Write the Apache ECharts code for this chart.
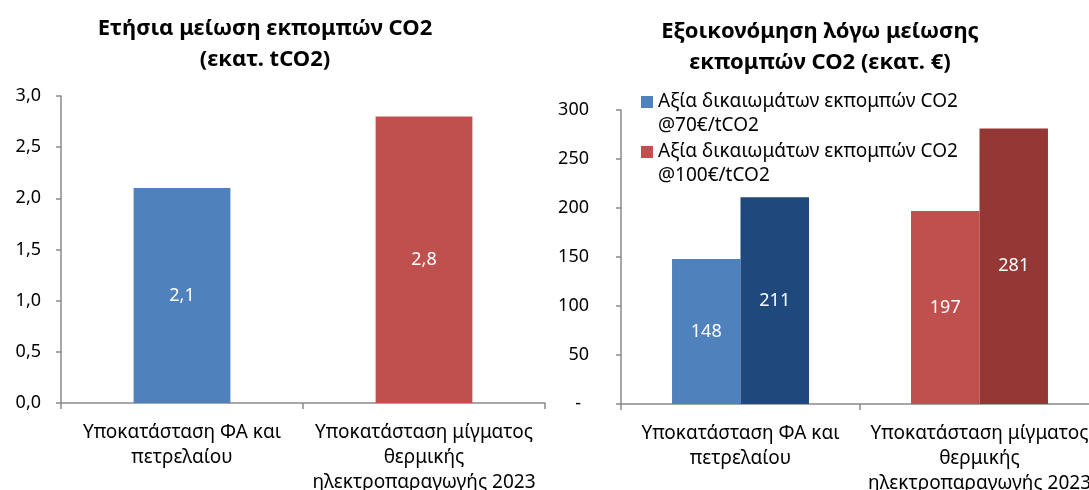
<!DOCTYPE html>
<html>
<head>
<meta charset="utf-8">
<script src="https://cdn.jsdelivr.net/npm/echarts@6/dist/echarts.min.js"></script>
<style>
  html, body { margin: 0; padding: 0; background: #ffffff; }
  #chart { width: 1089px; height: 490px; }
</style>
</head>
<body>
<div id="chart"></div>
<script>
// Text
const FONT = '"Noto Sans", "DejaVu Sans", sans-serif';
const leftTitle = 'Ετήσια μείωση εκπομπών CO2\n(εκατ. tCO2)';
const rightTitle = 'Εξοικονόμηση λόγω μείωσης\nεκπομπών CO2 (εκατ. €)';
const categories = [
  'Υποκατάσταση ΦΑ και\nπετρελαίου',
  'Υποκατάσταση μίγματος\nθερμικής\nηλεκτροπαραγωγής 2023'
];
const seriesNames = [
  'Αξία δικαιωμάτων εκπομπών CO2\n@70€/tCO2',
  'Αξία δικαιωμάτων εκπομπών CO2\n@100€/tCO2'
];

// Values
const reductionValues = [2.1, 2.8];      // εκατ. tCO2
const savings70 = [148, 197];            // εκατ. € @70€/tCO2
const savings100 = [211, 281];           // εκατ. € @100€/tCO2

// Axis tick labels
const leftTicks = ['0,0', '0,5', '1,0', '1,5', '2,0', '2,5', '3,0'];
const rightTicks = ['-', '50', '100', '150', '200', '250', '300'];

// Colours
const reductionColors = ['#4F81BD', '#C0504D'];
const savings70Colors = ['#4F81BD', '#C0504D'];
const savings100Colors = ['#1F497D', '#953735'];

const AXIS_GREY = '#8a8a8a';
const TEXT = '#000000';
const TEXT_SIZE = 19;   // category names, legend
const NUM_SIZE = 18;    // tick values, bar values
const TITLE_SIZE = 22;

const chart = echarts.init(document.getElementById('chart'), null, { renderer: 'canvas' });

const commaNum = v => v.toFixed(1).replace('.', ',');

function xAxisCommon(gridIndex) {
  return {
    type: 'category',
    gridIndex: gridIndex,
    data: categories,
    axisLine: { lineStyle: { color: AXIS_GREY, width: 1.5 } },
    axisTick: { show: true, length: 6, lineStyle: { color: AXIS_GREY, width: 1.5 } },
    axisLabel: {
      color: TEXT, fontFamily: FONT, fontSize: TEXT_SIZE, lineHeight: 25,
      margin: 17, interval: 0, align: 'center'
    },
    splitLine: { show: false }
  };
}

const option = {
  backgroundColor: '#ffffff',
  animation: false,
  textStyle: { fontFamily: FONT },
  title: [
    {
      text: leftTitle, left: 265, top: 13, textAlign: 'center', padding: 0,
      textStyle: { fontFamily: FONT, fontSize: TITLE_SIZE, fontWeight: 'bold', color: TEXT, lineHeight: 31 }
    },
    {
      text: rightTitle, left: 820, top: 16, textAlign: 'center', padding: 0,
      textStyle: { fontFamily: FONT, fontSize: TITLE_SIZE, fontWeight: 'bold', color: TEXT, lineHeight: 31 }
    }
  ],
  legend: {
    data: seriesNames,
    orient: 'vertical',
    left: 641, top: 90, padding: 0,
    itemGap: 2,
    itemWidth: 12, itemHeight: 48,
    // square marker sitting on the first text line
    icon: 'path://M0,0M0,48M0,6h12v12h-12z',
    textStyle: { fontFamily: FONT, fontSize: TEXT_SIZE, lineHeight: 24, color: TEXT },
    itemStyle: { borderWidth: 0 },
    selectedMode: false
  },
  grid: [
    { left: 61, top: 96, width: 484, height: 307, containLabel: false, outerBoundsMode: 'none' },
    { left: 621, top: 110, width: 478, height: 294, containLabel: false, outerBoundsMode: 'none' }
  ],
  xAxis: [xAxisCommon(0), xAxisCommon(1)],
  yAxis: [
    {
      type: 'value', gridIndex: 0, min: 0, max: 3, interval: 0.5,
      axisLine: { show: true, lineStyle: { color: AXIS_GREY, width: 1.5 } },
      axisTick: { show: true, length: 5, lineStyle: { color: AXIS_GREY, width: 1.5 } },
      axisLabel: {
        color: TEXT, fontFamily: FONT, fontSize: NUM_SIZE, margin: 20,
        formatter: v => leftTicks[Math.round(v / 0.5)]
      },
      splitLine: { show: false }
    },
    {
      type: 'value', gridIndex: 1, min: 0, max: 300, interval: 50,
      axisLine: { show: true, lineStyle: { color: AXIS_GREY, width: 1.5 } },
      axisTick: { show: true, length: 5, lineStyle: { color: AXIS_GREY, width: 1.5 } },
      axisLabel: {
        color: TEXT, fontFamily: FONT, fontSize: NUM_SIZE, margin: 32,
        formatter: v => {
          const t = rightTicks[Math.round(v / 50)];
          return t === '-' ? '{dash|-}' : t;
        },
        rich: { dash: { fontFamily: FONT, fontSize: NUM_SIZE, color: TEXT, padding: [0, 8, 0, 0] } }
      },
      splitLine: { show: false }
    }
  ],
  series: [
    {
      name: 'Ετήσια μείωση εκπομπών CO2',
      type: 'bar',
      xAxisIndex: 0, yAxisIndex: 0,
      barCategoryGap: '60%',
      data: reductionValues.map((v, i) => ({ value: v, itemStyle: { color: reductionColors[i] } })),
      label: {
        show: true, position: 'inside', color: '#ffffff',
        fontFamily: FONT, fontSize: NUM_SIZE,
        formatter: p => commaNum(p.value)
      }
    },
    {
      name: seriesNames[0],
      type: 'bar',
      xAxisIndex: 1, yAxisIndex: 1,
      barGap: '0%', barCategoryGap: '42.7%',
      itemStyle: { color: savings70Colors[0] },
      data: savings70.map((v, i) => ({ value: v, itemStyle: { color: savings70Colors[i] } })),
      label: {
        show: true, position: 'inside', color: '#ffffff',
        fontFamily: FONT, fontSize: NUM_SIZE
      }
    },
    {
      name: seriesNames[1],
      type: 'bar',
      xAxisIndex: 1, yAxisIndex: 1,
      barGap: '0%', barCategoryGap: '42.7%',
      itemStyle: { color: '#C0504D' },
      data: savings100.map((v, i) => ({ value: v, itemStyle: { color: savings100Colors[i] } })),
      label: {
        show: true, position: 'inside', color: '#ffffff',
        fontFamily: FONT, fontSize: NUM_SIZE
      }
    }
  ]
};

chart.setOption(option);
</script>
</body>
</html>
